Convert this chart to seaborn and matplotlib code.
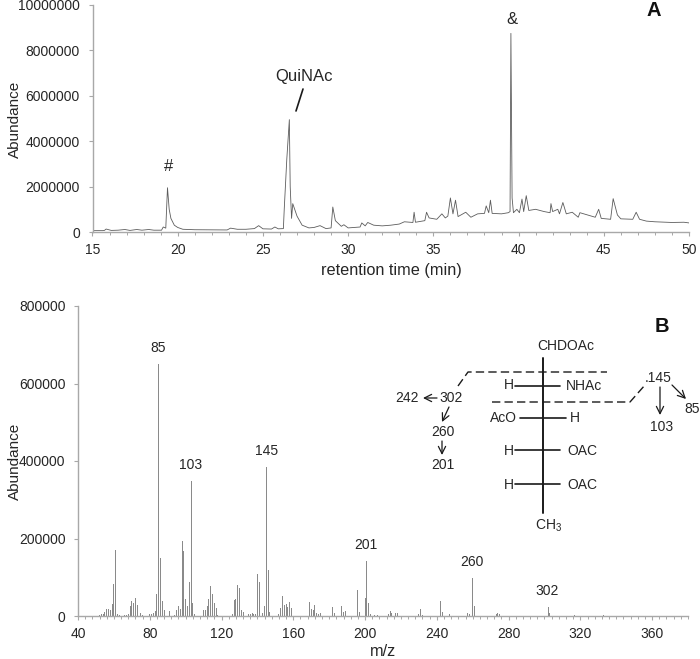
import matplotlib
matplotlib.use('Agg')
import matplotlib.pyplot as plt
from matplotlib.lines import Line2D
from matplotlib.patches import FancyArrowPatch
from matplotlib.ticker import MultipleLocator
import seaborn as sns

sns.set_theme(style='ticks')
plt.rcParams['font.family'] = ['Liberation Sans', 'DejaVu Sans']
plt.rcParams['mathtext.default'] = 'regular'

# chromatogram trace (panel A)
rt = [15, 15.6, 15.7, 15.8, 16.1, 16.5, 16.9, 17.2, 17.6, 17.9, 18.3, 18.6, 19.05, 19.15, 19.3, 19.4,
      19.5, 19.6, 19.8, 20, 20.3, 21, 22, 22.9, 23.1, 23.5, 24, 24.5, 24.75, 25, 25.5, 25.7, 25.9, 26.2,
      26.25, 26.4, 26.55, 26.6, 26.68, 26.75, 27, 27.3, 27.7, 28, 28.35, 28.7, 29, 29.1, 29.25, 29.6,
      29.75, 30, 30.7, 30.8, 31, 31.15, 31.5, 32, 32.5, 33, 33.3, 33.8, 33.87, 33.95, 34.5, 34.6, 34.75,
      35.2, 35.5, 35.7, 35.85, 36.0, 36.15, 36.3, 36.45, 36.9, 37.2, 37.6, 38, 38.1, 38.25, 38.35, 38.45,
      39, 39.4, 39.5, 39.55, 39.62, 39.7, 39.9, 40.05, 40.2, 40.3, 40.45, 40.6, 41, 41.5, 41.85, 41.9,
      42, 42.3, 42.4, 42.6, 42.8, 43.15, 43.5, 43.6, 44.5, 44.7, 44.85, 45.4, 45.55, 45.8, 46, 46.7,
      46.9, 47.1, 47.5, 48, 49, 49.7, 50]
abundance = [60000, 60000, 70000, 130000, 70000, 80000, 110000, 70000, 110000, 80000, 110000, 80000,
             80000, 220000, 170000, 1950000, 1000000, 600000, 300000, 200000, 120000, 100000, 95000, 90000,
             170000, 120000, 120000, 150000, 280000, 140000, 130000, 220000, 140000, 150000, 1000000,
             3200000, 4950000, 2000000, 600000, 1250000, 700000, 300000, 180000, 200000, 280000, 150000,
             180000, 1100000, 500000, 250000, 320000, 180000, 220000, 400000, 270000, 420000, 300000,
             270000, 300000, 350000, 450000, 420000, 870000, 430000, 500000, 870000, 620000, 560000,
             800000, 620000, 700000, 1500000, 800000, 1400000, 680000, 870000, 650000, 800000, 820000,
             1150000, 850000, 1400000, 820000, 800000, 850000, 900000, 8750000, 1500000, 850000, 1000000,
             850000, 1450000, 900000, 1600000, 950000, 1000000, 900000, 850000, 1250000, 900000, 1000000,
             800000, 1300000, 800000, 870000, 650000, 850000, 650000, 1000000, 600000, 560000, 1470000,
             750000, 580000, 560000, 870000, 560000, 480000, 450000, 420000, 430000, 400000]
rt_ticks = [15, 20, 25, 30, 35, 40, 45, 50]

# mass spectrum (panel B)
mz = [52, 53, 54, 55, 56, 57, 58, 59, 60, 61, 62, 63, 66, 67, 68, 69, 70, 71, 72, 73, 74, 75, 76, 80, 81, 82, 83, 84,
      85, 86, 87, 88, 91, 94, 95, 96, 97, 98, 99, 100, 101, 102, 103, 104, 105, 110, 111, 112, 113, 114,
      115, 116, 117, 118, 126, 127, 128, 129, 130, 131, 132, 135, 136, 137, 138, 139, 140, 141, 142, 143,
      144, 145, 146, 147, 152, 153, 154, 155, 156, 157, 158, 159, 169, 170, 171, 172, 173, 174, 175, 176,
      182, 183, 187, 188, 189, 196, 197, 200, 201, 202, 203, 205, 207, 213, 214, 215, 217, 218, 230, 231,
      232, 242, 243, 247, 257, 258, 260, 261, 273, 274, 275, 302, 303, 317, 333]
mz_abundance = [3000, 5000, 6000, 11000, 18000, 17000, 15000, 30000, 82000, 170000, 5000, 2000, 2000, 3000, 4000,
                26000, 38000, 34000, 47000, 29000, 12000, 7000, 3000, 4000, 5000, 8000, 12000, 56000,
                650000, 150000, 40000, 15000, 13000, 3000, 15000, 25000, 19000, 194000, 167000, 44000, 26000,
                88000, 348000, 33000, 5000, 15000, 15000, 27000, 44000, 77000, 58000, 33000, 20000, 3000,
                4000, 41000, 45000, 80000, 71000, 15000, 11000, 4000, 5000, 7000, 4000, 5000, 108000, 88000,
                17000, 8000, 26000, 385000, 118000, 11000, 5000, 20000, 51000, 28000, 31000, 22000, 36000,
                20000, 36000, 17000, 15000, 29000, 9000, 5000, 9000, 3000, 22000, 8000, 27000, 11000, 13000,
                68000, 11000, 46000, 141000, 33000, 5000, 3000, 3000, 5000, 13000, 9000, 7000, 7000, 5000,
                19000, 3000, 38000, 10000, 5000, 7000, 5000, 99000, 26000, 5000, 8000, 5000, 23000, 7000,
                2000, 2000]
mz_ticks = [40, 80, 120, 160, 200, 240, 280, 320, 360]
a_yticks = [0, 2000000, 4000000, 6000000, 8000000, 10000000]
b_yticks = [0, 200000, 400000, 600000, 800000]

W, H = 700, 659
AXIS = '#a8a8a8'
INK = '#262626'
fig = plt.figure(figsize=(7.0, 6.59), dpi=100)


def P(x, y):
    # pixel position in the picture -> figure fraction
    return x / W, 1 - y / H


def label(x, y, s, size=10, **kw):
    fig.text(*P(x, y), s, fontsize=size, ha=kw.pop('ha', 'center'), va='center',
             color=kw.pop('color', INK), **kw)


def seg(*pts, **kw):
    xs, ys = zip(*[P(*p) for p in pts])
    fig.add_artist(Line2D(xs, ys, transform=fig.transFigure, color=kw.pop('color', '#1a1a1a'),
                          lw=kw.pop('lw', 1.2), **kw))


def arrow(p0, p1):
    fig.add_artist(FancyArrowPatch(P(*p0), P(*p1), transform=fig.transFigure, arrowstyle='->',
                                   mutation_scale=13, lw=0.9, color='#1a1a1a', shrinkA=0, shrinkB=0))


def style(ax, xlim, ylim, xticks, yticks, minor):
    ax.set_xlim(*xlim)
    ax.set_ylim(*ylim)
    ax.set_xticks(xticks)
    ax.set_xticklabels([str(t) for t in xticks])
    ax.set_yticks(yticks)
    ax.set_yticklabels([str(t) for t in yticks])
    ax.xaxis.set_minor_locator(MultipleLocator(minor))
    ax.tick_params(axis='both', which='major', labelsize=10, length=3, width=0.8, color=AXIS,
                   labelcolor=INK)
    ax.tick_params(axis='y', which='major', pad=6)
    ax.tick_params(axis='x', which='major', pad=5)
    ax.tick_params(axis='x', which='minor', length=2.5, width=0.7, color=AXIS)
    ax.set_xlabel('')
    ax.set_ylabel('')
    sns.despine(ax=ax)
    for side in ['left', 'bottom']:
        ax.spines[side].set_color(AXIS)
        ax.spines[side].set_linewidth(1.0)
    ax.patch.set_alpha(0)


# panel A
ax_a = fig.add_axes([92.5 / W, 1 - 232 / H, (689 - 92.5) / W, (232 - 5) / H])
sns.lineplot(x=rt, y=abundance, ax=ax_a, color='#5c5c5c', lw=0.6, estimator=None, sort=False, errorbar=None)
style(ax_a, (15, 50), (0, 10000000), rt_ticks, a_yticks, 1)

# panel B
ax_b = fig.add_axes([78 / W, 1 - 616 / H, (688 - 78) / W, (616 - 306) / H])
sns.barplot(x=mz, y=mz_abundance, ax=ax_b, native_scale=True, color='#8a8a8a', saturation=1, width=0.55,
            linewidth=0)
style(ax_b, (40, 380), (0, 800000), mz_ticks, b_yticks, 4)

# axis titles
label(15, 119, 'Abundance', size=11, rotation=90)
label(15, 461, 'Abundance', size=11, rotation=90)
label(391, 270, 'retention time (min)', size=11.7)
label(383, 652, 'm/z', size=11.7)

# panel letters and peak labels
label(654, 10, 'A', size=14.5, fontweight='bold', color='#111111')
label(662, 326, 'B', size=14.5, fontweight='bold', color='#111111')
label(512, 20, '&', size=12)
label(169, 167, '#', size=12)
label(304, 76, 'QuiNAc', size=12)
seg((303, 89), (296, 111), lw=1.2)
for x, y, s in [(158.5, 348, '85'), (191, 465, '103'), (267, 451, '145'), (366, 545, '201'),
                (472, 562, '260'), (547, 591, '302')]:
    label(x, y, s)

# sugar structure
label(566, 346, 'CHDOAc')
seg((543, 358), (543, 513), lw=1.4)
seg((515, 386), (560, 386))
seg((520, 418), (566, 418))
seg((515, 450), (560, 450))
seg((515, 484), (560, 484))
seg((458, 386), (468, 372), (607, 372), lw=1.0, ls=(0, (6, 3)))
seg((492, 402), (630, 402), (645, 385), lw=1.0, ls=(0, (6, 3)))
for x, y, s in [(509, 385, 'H'), (584, 386, 'NHAc'), (503, 418, 'AcO'), (575, 418, 'H'),
                (509, 451, 'H'), (582, 451, 'OAC'), (509, 485, 'H'), (582, 485, 'OAC'),
                (549, 526, r'CH$_{3}$'), (407, 398, '242'), (451, 398, '302'), (443, 432, '260'),
                (443, 465, '201'), (658, 378, '.145'), (662, 427, '103'), (692, 409, '85')]:
    label(x, y, s)
arrow((437, 398), (423, 398))
arrow((449, 407), (442, 422))
arrow((442, 441), (442, 455))
arrow((660, 387), (660, 415))
arrow((672, 385), (686, 399))

fig.savefig('out.png', dpi=100)
